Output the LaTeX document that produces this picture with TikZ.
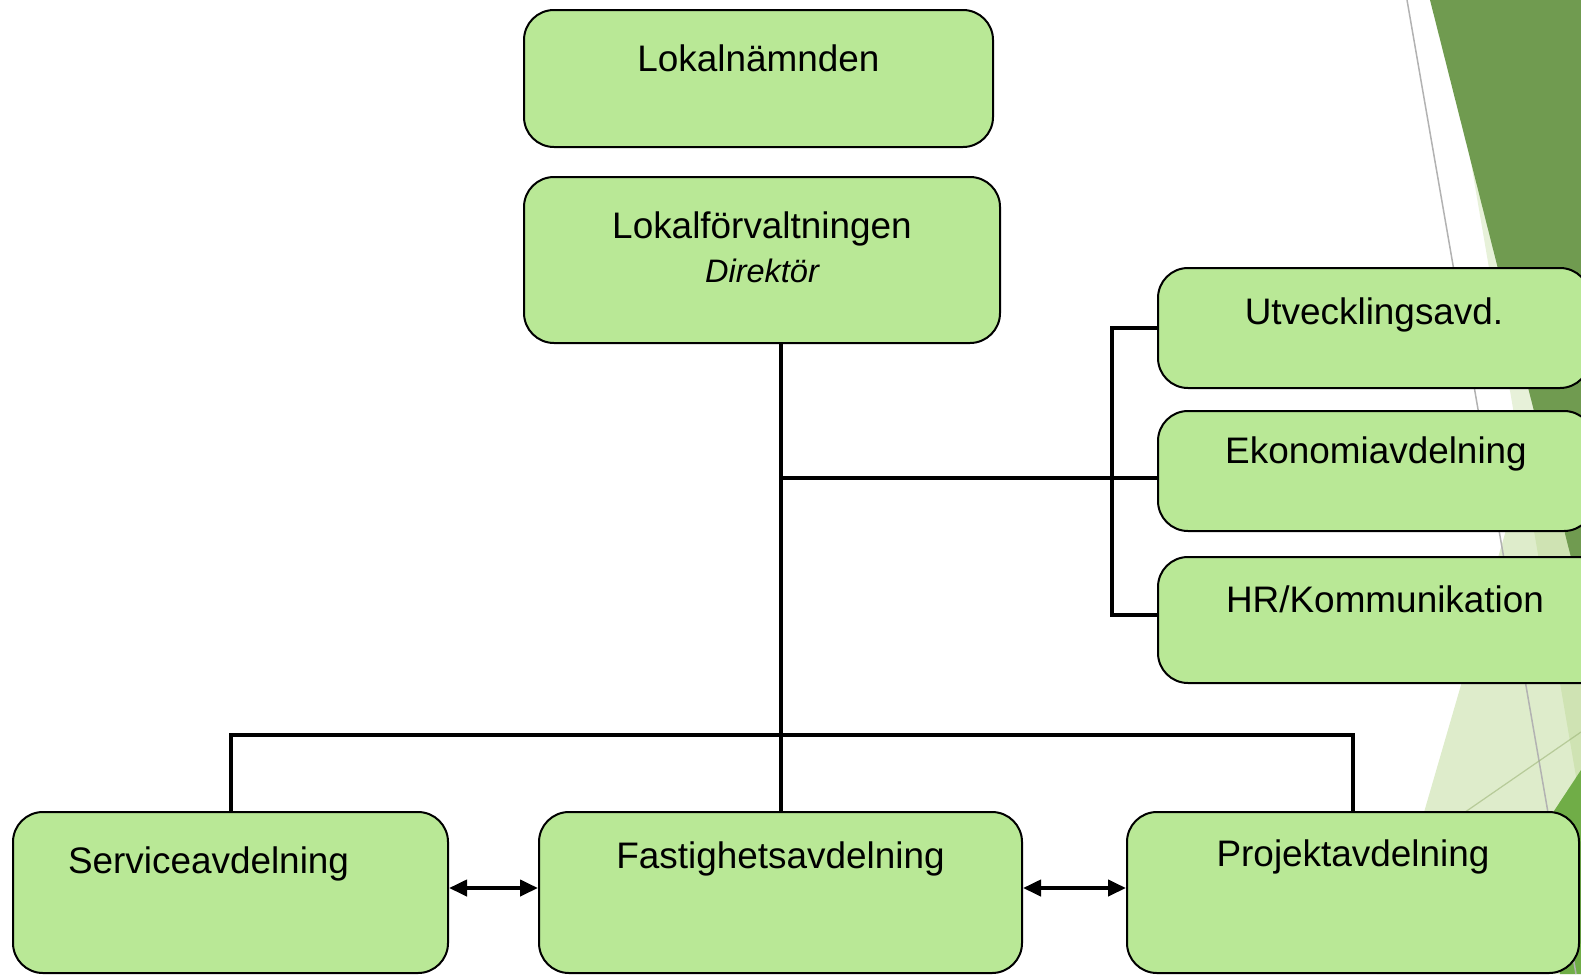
\documentclass[tikz,border=0pt]{standalone}
\usepackage{fontspec}
\setmainfont{Liberation Sans}
\usetikzlibrary{arrows.meta}
\definecolor{boxgreen}{RGB}{185,232,150}
\definecolor{facetdark}{RGB}{112,155,80}
\definecolor{facetlight}{RGB}{169,205,118}
\definecolor{facetbright}{RGB}{112,173,71}
\tikzset{
  box/.style={draw=black, line width=0.4mm, fill=boxgreen, rounded corners=6mm,
    inner sep=0pt, anchor=north west, font=\fontsize{21pt}{25pt}\selectfont},
  conn/.style={line width=0.8mm},
  twoway/.style={conn, {Triangle[length=3.6mm,width=3.2mm]}-{Triangle[length=3.6mm,width=3.2mm]}}
}
\begin{document}
\begin{tikzpicture}[x=0.2mm,y=-0.2mm]
\useasboundingbox (0,0) rectangle (1581,974);
\clip (0,0) rectangle (1581,974);

% facets at the right edge
\fill[facetlight, opacity=0.28] (1470,157) -- (1581,806) -- (1581,157) -- cycle;
\fill[facetlight, opacity=0.38] (1581,272) -- (1377,974) -- (1581,974) -- cycle;
\fill[facetdark] (1430,0) -- (1581,597) -- (1581,0) -- cycle;
\fill[facetbright] (1548,820) -- (1581,770) -- (1581,974) -- (1560,974) -- cycle;
\draw[gray!60, line width=0.3mm] (1407,0) -- (1576,974);
\draw[facetlight!70!gray, line width=0.25mm, opacity=0.6] (1400,857) -- (1581,732);

\node[box, minimum width=93.8mm, text height=12.2mm, text depth=15.2mm] (ln) at (523,9) {Lokalnämnden};
\node[box, minimum width=95.2mm, text height=21mm, text depth=12.2mm, align=center] (lf) at (523,176)
  {Lokalförvaltningen\\{\fontsize{18.5pt}{25pt}\selectfont\itshape Direktör}};

\node[box, minimum width=86.4mm, text height=11.2mm, text depth=12.8mm] (utv) at (1157,267) {Utvecklingsavd.};
\node[box, minimum width=87.2mm, text height=10.4mm, text depth=13.6mm] (eko) at (1157,410) {Ekonomiavdelning};
\node[box, minimum width=90.8mm, text height=11mm, text depth=14.2mm] (hr) at (1157,556) {HR/Kommunikation};

\node[box, text width=65mm, inner xsep=11mm, align=left, text height=12.2mm, text depth=20mm] (serv) at (12,811) {Serviceavdelning};
\node[box, minimum width=96.6mm, text height=11.2mm, text depth=21mm] (fast) at (538,811) {Fastighetsavdelning};
\node[box, minimum width=90.4mm, text height=10.8mm, text depth=21.4mm] (proj) at (1126,811) {Projektavdelning};

\coordinate (j1) at (779,478);
\coordinate (bar) at (779,735);

\draw[conn] (fast.north |- lf.south) -- (fast.north);
\draw[conn] (j1) -- (j1 -| eko.west);
\draw[conn] (utv.west) -- ++(-45,0) |- ([yshift=1mm]hr.west);
\draw[conn] (serv.north) |- (bar) -| (proj.north);

\draw[twoway] ([yshift=.9mm]serv.east) -- ([yshift=.9mm]fast.west);
\draw[twoway] ([yshift=.9mm]fast.east) -- ([yshift=.9mm]proj.west);
\end{tikzpicture}
\end{document}
